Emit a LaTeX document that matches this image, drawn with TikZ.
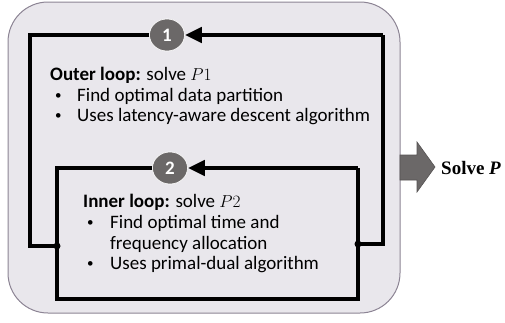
\documentclass[tikz,border=0pt]{standalone}
\usepackage{fontspec}
\setmainfont{Carlito}
\newfontfamily\solvefont{Liberation Serif}
\usetikzlibrary{arrows.meta}
\usetikzlibrary{shapes.geometric}
\definecolor{panelfill}{HTML}{E9E7EC}
\definecolor{panelline}{HTML}{8C8494}
\definecolor{markgray}{HTML}{6B6868}
\newcommand{\loopbullet}{\raisebox{1.5pt}{\fontsize{13}{13}\selectfont\textbullet}}

\begin{document}
\begin{tikzpicture}[x=1pt,y=-1pt,
    loopline/.style={line width=4.5pt},
    loopdot/.style={circle,fill=black,inner sep=0pt,minimum size=7pt},
    loopmark/.style={ellipse,fill=markgray,draw=white,line width=0.6pt,minimum width=35pt,minimum height=32pt,inner sep=0pt,text=white,font=\bfseries\fontsize{19}{19}\selectfont},
    looptext/.style={anchor=base west,inner sep=0pt,font=\fontsize{19}{21}\selectfont},
    looptip/.style={-{Triangle[length=17pt,width=15pt]}}]
      \useasboundingbox (0,0) rectangle (505,322);
      \draw[panelline,fill=panelfill,line width=1pt,rounded corners=40pt] (8,2) rectangle (400,313);
      % outer loop
      \node[loopmark] (m1) at (167,35) {1};
      \coordinate (otl) at (30,35);
      \coordinate (otr) at (383,35);
      \coordinate (obl) at (30,246);
      \coordinate (obr) at (383,244);
      \node[loopdot] (j1) at (57,246) {};
      \node[loopdot] (j2) at (358,244) {};
      \draw[loopline,looptip] (otr) -- (m1.east);
      \draw[loopline] (m1.west) -- (otl) -- (obl) -- (j1.center);
      \draw[loopline] (otr) -- (obr) -- (j2.center);
      % inner loop
      \node[loopmark] (m2) at (170,168) {2};
      \coordinate (itl) at (57,168);
      \coordinate (itr) at (358,168);
      \coordinate (ibl) at (57,299);
      \coordinate (ibr) at (358,299);
      \draw[loopline,looptip] (itr) -- (m2.east);
      \draw[loopline] (m2.west) -- (itl) -- (ibl) -- (ibr) -- (itr);
      \node[loopmark] at (m1) {1};
      \node[loopmark] at (m2) {2};
      % texts
      \node[looptext] (ohead) at (50,80) {\textbf{Outer loop:} solve $P1$};
      \node[looptext] (ob1) at (55,101) {\loopbullet};
      \node[looptext] (ot1) at (77,101) {Find optimal data partition};
      \node[looptext] (ob2) at (55,121) {\loopbullet};
      \node[looptext] (ot2) at (77,121) {Uses latency-aware descent algorithm};
      \node[looptext] (ihead) at (83,207) {\textbf{Inner loop:} solve $P2$};
      \node[looptext] (ib1) at (87,228) {\loopbullet};
      \node[looptext] (it1) at (110,228) {Find optimal time and};
      \node[looptext] (it1b) at (110,249) {frequency allocation};
      \node[looptext] (ib2) at (87,269) {\loopbullet};
      \node[looptext] (it2) at (110,269) {Uses primal-dual algorithm};
      % result
      \draw[markgray!80!black,fill=markgray,line width=0.6pt] (400,155) -- (417,155) -- (417,142) -- (435,167) -- (417,192) -- (417,180) -- (400,180) -- cycle;
      \node[anchor=base west,inner sep=0pt,font=\solvefont\bfseries\fontsize{19}{19}\selectfont] (solve) at (441,174) {Solve \textit{P}};
\end{tikzpicture}
\end{document}
